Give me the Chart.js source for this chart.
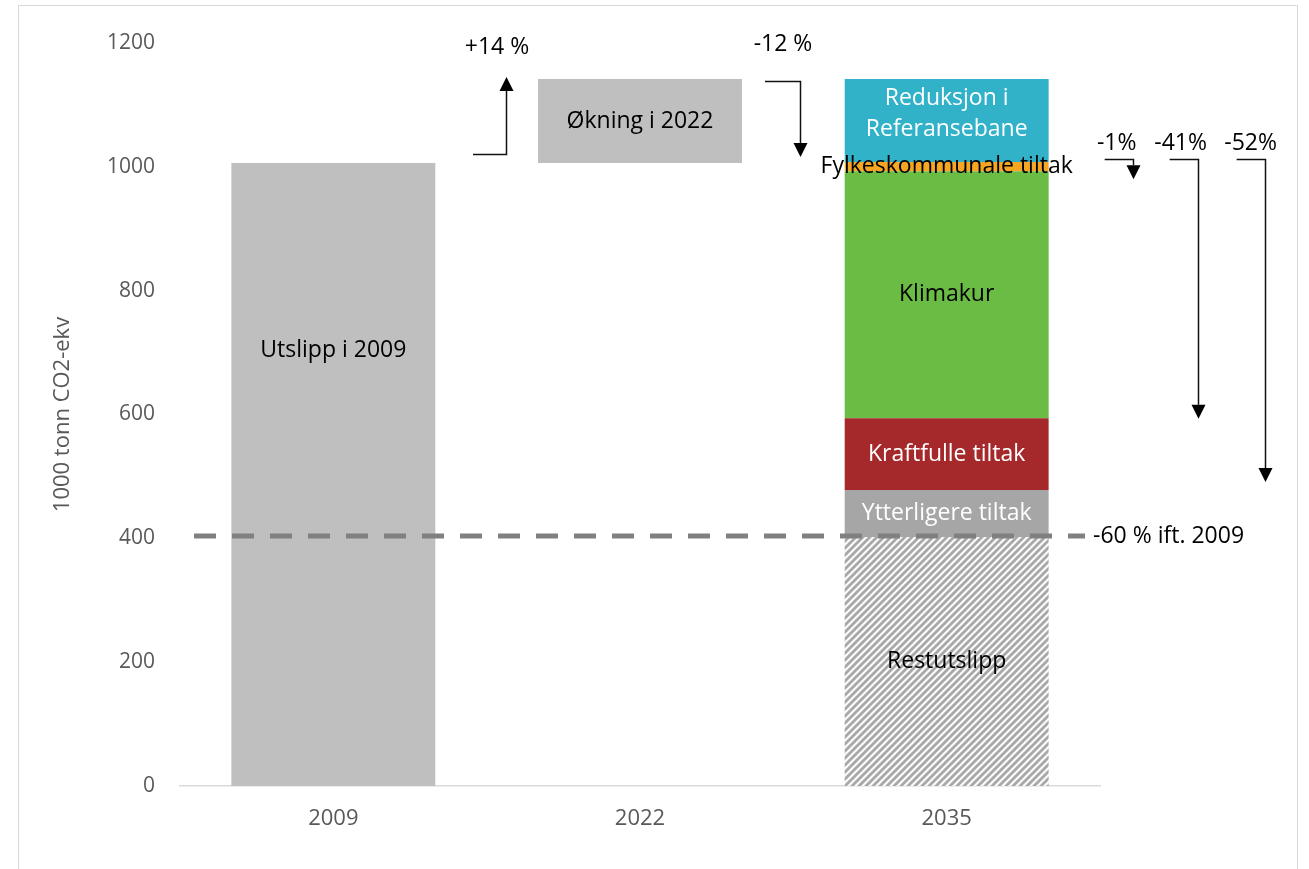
<!DOCTYPE html>
<html lang="no">
<head>
<meta charset="utf-8">
<title>Utslipp 2009–2035</title>
<script src="https://cdn.jsdelivr.net/npm/chart.js@4/dist/chart.umd.min.js"></script>
<style>
  html, body { margin: 0; padding: 0; background: #ffffff; }
  #wrap { position: relative; width: 1309px; height: 869px; overflow: hidden; }
  canvas { display: block; }
</style>
</head>
<body>
<div id="wrap"><canvas id="chart" width="1309" height="869"></canvas></div>
<script>
// ---- Data (1000 tonn CO2-ekv) ----
const categories = ['2009', '2022', '2035'];
const emissions2009 = 1006;          // Utslipp i 2009
const emissions2022 = 1142;          // nivå etter økning i 2022
const segmentNames = ['Restutslipp', 'Ytterligere tiltak', 'Kraftfulle tiltak', 'Klimakur', 'Fylkeskommunale tiltak', 'Reduksjon i Referansebane'];
const segmentValues = [402, 76, 116, 399, 15, 134];
const targetLevel = 402;             // -60 % ift. 2009
const yTicks = [0, 200, 400, 600, 800, 1000, 1200];
const changeLabels = ['+14 %', '-12 %', '-1%', '-41%', '-52%'];

// ---- Styles ----
const FONT = "'Open Sans', 'Liberation Sans', sans-serif";
const segmentColors = [null, '#A6A6A6', '#A5282B', '#6BBC45', '#F6A623', '#31B2C8'];
const segmentLabelColors = ['#000000', '#ffffff', '#ffffff', '#000000', '#000000', '#ffffff'];

// diagonal hatch for remaining emissions
function hatchPattern() {
  const c = document.createElement('canvas');
  const s = 7;
  c.width = s; c.height = s;
  const g = c.getContext('2d');
  g.fillStyle = '#fbfbfb';
  g.fillRect(0, 0, s, s);
  g.strokeStyle = '#a8a8a8';
  g.lineWidth = 2.8;
  g.beginPath();
  g.moveTo(-1, s + 1); g.lineTo(s + 1, -1);
  g.moveTo(-1, 1); g.lineTo(1, -1);
  g.moveTo(s - 1, s + 1); g.lineTo(s + 1, s - 1);
  g.stroke();
  return g.createPattern(c, 'repeat');
}

// ---- Datasets built from the arrays above ----
const datasets = [
  {
    label: 'Utslipp i 2009',
    data: [[0, emissions2009], null, null],
    backgroundColor: '#BFBFBF',
    labelColor: '#000000',
    labelAt: 0.7
  },
  {
    label: 'Økning i 2022',
    data: [null, [emissions2009, emissions2022], null],
    backgroundColor: '#BFBFBF',
    labelColor: '#000000',
    labelAt: 0.5
  }
];
let cum = 0;
segmentValues.forEach((v, i) => {
  datasets.push({
    label: segmentNames[i],
    data: [null, null, [cum, cum + v]],
    backgroundColor: i === 0 ? hatchPattern() : segmentColors[i],
    labelColor: segmentLabelColors[i],
    labelAt: i === 5 ? 0.58 : 0.5,
    labelLines: i === 5 ? ['Reduksjon i', 'Referansebane'] : null
  });
  cum += v;
});

// arrows with change labels: category index, vertical span in data units, x offsets from category centre
const arrows = [
  { cat: 1, text: changeLabels[0], from: 1020, to: 1145, xStart: -167, xLine: -134, textX: -143, textY: 1193 },
  { cat: 1, text: changeLabels[1], from: 1139, to: 1016, xStart: 125, xLine: 160, textX: 143, textY: 1197 },
  { cat: 2, text: changeLabels[2], from: 1012, to: 980, xStart: 158, xLine: 186, textX: 170, textY: 1038 },
  { cat: 2, text: changeLabels[3], from: 1012, to: 593, xStart: 223, xLine: 251, textX: 234, textY: 1038 },
  { cat: 2, text: changeLabels[4], from: 1012, to: 491, xStart: 290, xLine: 318, textX: 304, textY: 1038 }
];

const decorations = {
  id: 'decorations',
  beforeDraw(chart) {
    const ctx = chart.ctx;
    ctx.save();
    ctx.strokeStyle = '#D9D9D9';
    ctx.lineWidth = 1;
    ctx.strokeRect(18.5, 5.5, 1279, 900);
    ctx.restore();
  },
  afterDatasetsDraw(chart) {
    const ctx = chart.ctx;
    const y = chart.scales.y;
    const x = chart.scales.x;
    const area = chart.chartArea;

    // bar labels
    ctx.save();
    ctx.font = '23px ' + FONT;
    ctx.textAlign = 'center';
    ctx.textBaseline = 'middle';
    chart.data.datasets.forEach((ds, di) => {
      const meta = chart.getDatasetMeta(di);
      meta.data.forEach((el, idx) => {
        if (!ds.data[idx]) return;
        const p = el.getProps(['x', 'y', 'base'], true);
        const cy = p.base + (p.y - p.base) * ds.labelAt;
        ctx.fillStyle = ds.labelColor;
        if (ds.labelLines) {
          ctx.fillText(ds.labelLines[0], p.x, cy - 15.5);
          ctx.fillText(ds.labelLines[1], p.x, cy + 15.5);
        } else {
          ctx.fillText(ds.label, p.x, cy);
        }
      });
    });
    ctx.restore();

    // target line
    const ty = y.getPixelForValue(targetLevel) - 1;
    ctx.save();
    ctx.strokeStyle = '#808080';
    ctx.lineWidth = 5;
    ctx.setLineDash([22, 16]);
    ctx.beginPath();
    ctx.moveTo(area.left + 14, ty);
    ctx.lineTo(area.right - 15, ty);
    ctx.stroke();
    ctx.setLineDash([]);
    ctx.fillStyle = '#000000';
    ctx.font = '23px ' + FONT;
    ctx.textAlign = 'left';
    ctx.textBaseline = 'middle';
    ctx.fillText('-60 % ift. 2009', area.right - 7, ty);
    ctx.restore();

    // change arrows
    ctx.save();
    ctx.strokeStyle = '#111111';
    ctx.fillStyle = '#000000';
    ctx.lineWidth = 1.5;
    ctx.font = '23px ' + FONT;
    ctx.textAlign = 'center';
    ctx.textBaseline = 'middle';
    arrows.forEach(a => {
      const cx = x.getPixelForValue(a.cat);
      const y0 = Math.round(y.getPixelForValue(a.from)) + 0.5;
      const y1 = y.getPixelForValue(a.to);
      const dir = a.to > a.from ? -1 : 1;
      const lx = Math.round(cx + a.xLine) + 0.5;
      const head = 14;
      ctx.beginPath();
      ctx.moveTo(cx + a.xStart, y0);
      ctx.lineTo(lx, y0);
      ctx.lineTo(lx, y1 - dir * head);
      ctx.stroke();
      ctx.beginPath();
      ctx.moveTo(lx, y1);
      ctx.lineTo(lx - 7, y1 - dir * head);
      ctx.lineTo(lx + 7, y1 - dir * head);
      ctx.closePath();
      ctx.fill();
      ctx.fillText(a.text, cx + a.textX, y.getPixelForValue(a.textY));
    });
    ctx.restore();
  }
};

new Chart(document.getElementById('chart'), {
  type: 'bar',
  data: { labels: categories, datasets },
  options: {
    responsive: false,
    devicePixelRatio: 1,
    animation: false,
    layout: { padding: { left: 0, right: 209, top: 43, bottom: 0 } },
    barPercentage: 0.665,
    categoryPercentage: 1,
    plugins: { legend: { display: false }, tooltip: { enabled: false } },
    scales: {
      x: {
        stacked: true,
        grid: { display: false, drawTicks: false },
        border: { display: true, color: '#D9D9D9', width: 1.5 },
        ticks: { color: '#595959', font: { family: FONT, size: 22 }, padding: 20 },
        afterFit(s) { s.height = 83; }
      },
      y: {
        min: 0, max: 1200,
        afterBuildTicks(s) { s.ticks = yTicks.map(v => ({ value: v })); },
        grid: { display: false, drawTicks: false },
        border: { display: false },
        ticks: {
          color: '#595959',
          font: { family: FONT, size: 21 },
          padding: 25,
          callback: v => String(v)
        },
        title: {
          display: true,
          text: '1000 tonn CO2-ekv',
          color: '#595959',
          font: { family: FONT, size: 22 },
          padding: { top: 50, bottom: 0 }
        },
        afterFit(s) { s.width = 180; }
      }
    }
  },
  plugins: [decorations]
});
</script>
</body>
</html>
